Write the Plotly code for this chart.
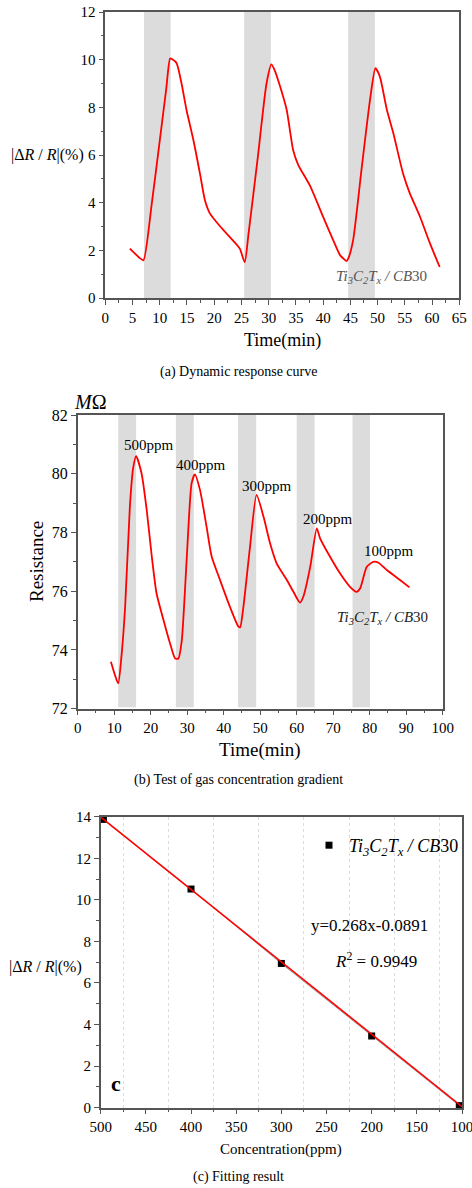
import plotly.graph_objects as go

# ---------------- data ----------------
# (a) dynamic response curve
a_time = [4.5, 5.5, 6.3, 7.0, 8.5, 10.0, 11.2, 11.9, 12.3, 13.1, 14.0, 14.9, 16.2, 17.4, 18.3, 19.2,
          21.1, 23.5, 24.7, 25.6, 26.3, 28.0, 29.6, 30.5, 31.2, 32.1, 33.3, 34.5, 35.4, 37.6, 40.0,
          41.9, 43.1, 44.3, 44.6, 45.5, 47.0, 48.6, 49.6, 50.4, 51.7, 52.9, 54.7, 55.9, 57.8, 59.6, 61.4]
a_resp = [2.07, 1.85, 1.68, 1.58, 3.9, 6.6, 8.8, 10.05, 10.02, 9.85, 9.0, 7.9, 6.6, 5.2, 4.1, 3.55,
          3.0, 2.4, 2.07, 1.5, 2.7, 5.9, 9.0, 9.8, 9.5, 8.87, 7.9, 6.2, 5.6, 4.7, 3.4,
          2.4, 1.8, 1.55, 1.65, 2.42, 5.3, 8.3, 9.64, 9.3, 7.9, 6.9, 5.2, 4.4, 3.4, 2.3, 1.3]
a_gas_on = [7.1, 25.5, 44.6]
a_gas_off = [12.0, 30.4, 49.5]

# (b) concentration gradient
b_time = [9.1, 10.2, 11.1, 12.0, 13.0, 14.3, 15.2, 16.0, 17.5, 18.9, 20.3, 21.6, 23.5, 25.3, 26.7,
          27.6, 28.5, 29.9, 31.2, 32.1, 33.5, 35.3, 36.7, 39.0, 41.7, 44.0, 44.5, 45.4, 47.2, 49.0,
          50.9, 52.7, 54.5, 57.3, 59.1, 60.9, 61.8, 63.7, 65.5, 66.4, 69.1, 71.9, 74.6, 76.4, 77.4,
          79.2, 81.0, 82.4, 84.7, 88.3, 90.9]
b_res = [73.6, 73.15, 72.86, 73.8, 75.47, 78.9, 80.2, 80.6, 80.01, 78.77, 77.18, 75.93, 75.02, 74.22, 73.71,
         73.71, 74.3, 77.18, 79.67, 79.98, 79.45, 78.2, 77.18, 76.38, 75.47, 74.8, 74.77, 75.47, 77.5, 79.28,
         78.54, 77.63, 76.95, 76.38, 75.98, 75.61, 75.81, 76.83, 78.14, 77.8, 77.18, 76.6, 76.15, 75.98, 76.1,
         76.83, 77.0, 76.97, 76.72, 76.38, 76.13]
b_gas_on = [11.1, 26.9, 43.9, 60.0, 75.3]
b_gas_off = [16.0, 31.8, 48.9, 64.9, 80.1]
b_labels = ["500ppm", "400ppm", "300ppm", "200ppm", "100ppm"]
b_label_x = [19.5, 33.8, 51.8, 68.5, 85.4]
b_label_y = [80.98, 80.3, 79.58, 78.45, 77.38]

# (c) fitting result
c_conc = [497, 400, 300, 200, 103]
c_resp = [13.87, 10.52, 6.94, 3.45, 0.1]
c_fit_x = [500, 100]
c_fit_y = [13.98, 0.05]

# ---------------- styling ----------------
FONT = "'Liberation Serif', 'Times New Roman', 'DejaVu Serif', serif"
AX = "#555555"
RED = "#ff0000"
SHADE = "#dcdcdc"
W, H = 472, 1188


def px(x):
    return x / W


def py(y):
    return 1 - y / H


def axis_common(**kw):
    d = dict(showline=True, linecolor=AX, linewidth=1.5, mirror=True, ticks="outside",
             ticklen=5, tickwidth=1.2, tickcolor=AX, showgrid=False, zeroline=False,
             automargin=False, ticklabeloverflow="allow",
             tickfont=dict(family=FONT, size=15, color="black"))
    d.update(kw)
    return d


def note(x, y, text, size, color="black", xref="paper", yref="paper", **kw):
    d = dict(x=x, y=y, xref=xref, yref=yref, showarrow=False, text=text,
             xanchor="center", yanchor="middle",
             font=dict(family=FONT, size=size, color=color))
    d.update(kw)
    return d


fig = go.Figure()

fig.add_trace(go.Scatter(x=a_time, y=a_resp, mode="lines", line=dict(color=RED, width=1.8, shape="spline", smoothing=0.6),
                         xaxis="x", yaxis="y", showlegend=False))
fig.add_trace(go.Scatter(x=b_time, y=b_res, mode="lines", line=dict(color=RED, width=1.8, shape="spline", smoothing=0.6),
                         xaxis="x2", yaxis="y2", showlegend=False))
fig.add_trace(go.Scatter(x=c_conc, y=c_resp, mode="lines", line=dict(color="#999999", width=1),
                         xaxis="x3", yaxis="y3", showlegend=False, cliponaxis=False))
fig.add_trace(go.Scatter(x=c_conc, y=c_resp, mode="markers", marker=dict(symbol="square", size=7, color="black"),
                         name="<i>Ti<sub>3</sub>C<sub>2</sub>T<sub>x</sub> / CB</i>30",
                         xaxis="x3", yaxis="y3", showlegend=True, cliponaxis=False))
fig.add_trace(go.Scatter(x=c_fit_x, y=c_fit_y, mode="lines", line=dict(color=RED, width=1.6),
                         xaxis="x3", yaxis="y3", showlegend=False))

shapes = []
for s, e in zip(a_gas_on, a_gas_off):
    shapes.append(dict(type="rect", xref="x", yref="y domain", x0=s, x1=e, y0=0, y1=1,
                       fillcolor=SHADE, line=dict(width=0), layer="below"))
for s, e in zip(b_gas_on, b_gas_off):
    shapes.append(dict(type="rect", xref="x2", yref="y2 domain", x0=s, x1=e, y0=0.005, y1=1,
                       fillcolor=SHADE, line=dict(width=0), layer="below"))

TI = "<i>Ti<sub>3</sub>C<sub>2</sub>T<sub>x</sub> / CB</i>30"
ann = [
    # panel a
    note(px(47), py(155), "|Δ<i>R</i> / <i>R</i>|(%)", 16),
    note(px(282), py(341), "Time(min)", 18),
    note(px(238), py(372), "(a) Dynamic response curve", 14),
    note(50.7, 0.88, TI, 15, color="#555555", xref="x", yref="y"),
    # panel b
    note(px(90), py(402), "<i>M</i>Ω", 20),
    note(px(36), py(562), "Resistance", 19, textangle=-90),
    note(px(260), py(750), "Time(min)", 19),
    note(px(238), py(780), "(b) Test of gas concentration gradient", 14),
    note(83.6, 75.08, TI, 15, color="#222222", xref="x2", yref="y2"),
    # panel c
    note(px(45), py(967), "|Δ<i>R</i> / <i>R</i>|(%)", 16),
    note(px(281), py(1149), "Concentration(ppm)", 15),
    note(px(238), py(1177), "(c) Fitting result", 14),
    note(px(369), py(926), "y=0.268x-0.0891", 17),
    note(px(376), py(960), "<i>R</i><sup>2</sup> = 0.9949", 17),
    note(px(116), py(1083), "<b>c</b>", 22),
]
for t, x, y in zip(b_labels, b_label_x, b_label_y):
    ann.append(note(x, y, t, 15, xref="x2", yref="y2"))

fig.update_layout(
    width=W, height=H, margin=dict(l=0, r=0, t=0, b=0, autoexpand=False),
    paper_bgcolor="white", plot_bgcolor="white",
    font=dict(family=FONT, color="black"),
    xaxis=axis_common(domain=[px(105.3), px(459.3)], range=[0, 65], dtick=5, tick0=0,
                      minor=dict(dtick=2.5, ticklen=3, tickcolor=AX, ticks="outside"), anchor="y"),
    yaxis=axis_common(domain=[py(298), py(12)], range=[0, 12], dtick=2,
                      minor=dict(dtick=1, ticklen=3, tickcolor=AX, ticks="outside"), anchor="x"),
    xaxis2=axis_common(domain=[px(77.7), px(442.7)], range=[0, 100], dtick=10,
                       minor=dict(dtick=5, ticklen=3, tickcolor=AX, ticks="outside"), anchor="y2"),
    yaxis2=axis_common(domain=[py(708.7), py(415)], range=[72, 82], dtick=2,
                       minor=dict(dtick=1, ticklen=3, tickcolor=AX, ticks="outside"), anchor="x2",
                       tickfont=dict(family=FONT, size=16, color="black")),
    xaxis3=axis_common(domain=[px(100.7), px(462)], range=[500, 100], dtick=50, tick0=0,
                       minor=dict(dtick=25, tick0=0, ticklen=3, tickcolor=AX, ticks="outside",
                                  showgrid=True, gridcolor="#dddddd", griddash="dot", gridwidth=1),
                       anchor="y3"),
    yaxis3=axis_common(domain=[py(1107.7), py(816.7)], range=[0, 14], dtick=2,
                       minor=dict(dtick=1, ticklen=3, tickcolor=AX, ticks="outside"), anchor="x3"),
    shapes=shapes, annotations=ann,
    legend=dict(x=px(464), y=py(827), xanchor="right", yanchor="top", bgcolor="rgba(0,0,0,0)",
                font=dict(family=FONT, size=18, color="black"), itemwidth=30, tracegroupgap=0),
)

fig.write_html("out.html")
